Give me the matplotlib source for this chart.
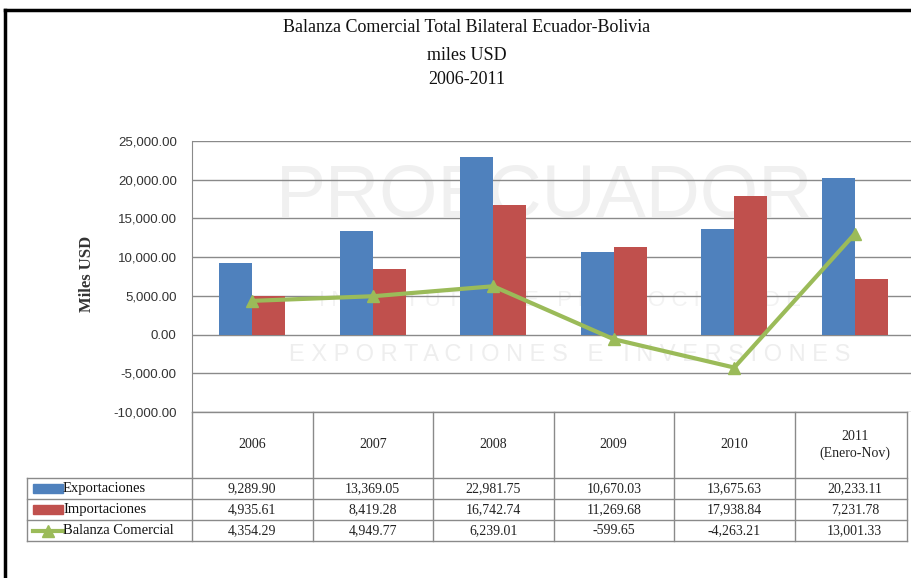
import numpy as np
import matplotlib as mpl
mpl.use('agg')
import matplotlib.pyplot as plt
from matplotlib.transforms import blended_transform_factory
from matplotlib.patches import Rectangle
from matplotlib.lines import Line2D

# Balanza comercial Ecuador-Bolivia, miles USD
years = ['2006', '2007', '2008', '2009', '2010', '2011\n(Enero-Nov)']
exportaciones = [9289.90, 13369.05, 22981.75, 10670.03, 13675.63, 20233.11]
importaciones = [4935.61, 8419.28, 16742.74, 11269.68, 17938.84, 7231.78]
balanza = [4354.29, 4949.77, 6239.01, -599.65, -4263.21, 13001.33]
series_names = ['Exportaciones', 'Importaciones', 'Balanza Comercial']
yticks = [-10000, -5000, 0, 5000, 10000, 15000, 20000, 25000]

BLUE = '#4F81BD'
RED = '#C0504D'
GREEN = '#9BBB59'
GRID = '#8a8a8a'
SERIF = ['Liberation Serif', 'DejaVu Serif']
SANS = ['Liberation Sans', 'DejaVu Sans']

W, H = 912, 578
fig = plt.figure(figsize=(W / 100, H / 100), dpi=100)
fig.patch.set_facecolor('white')

# background layer in pixel coordinates (title, table, frame)
bg = fig.add_axes([0, 0, 1, 1], zorder=0)
bg.set_xlim(0, W)
bg.set_ylim(H, 0)
bg.axis('off')

# plot area
left, right, top, bottom = 192, 915, 141, 412
ax = fig.add_axes([left / W, 1 - bottom / H, (right - left) / W, (bottom - top) / H], zorder=1)
ax.patch.set_alpha(0)

x = np.arange(len(years))
bw = 0.275
ax.bar(x - bw / 2, exportaciones, bw, color=BLUE, zorder=3)
ax.bar(x + bw / 2, importaciones, bw, color=RED, zorder=3)
ax.plot(x, balanza, color=GREEN, lw=3, marker='^', ms=8, zorder=4)

ax.set_xlim(-0.5, len(years) - 0.5)
ax.set_ylim(yticks[0], yticks[-1])
ax.set_yticks(yticks)
ax.set_yticklabels(['{:,.2f}'.format(v) for v in yticks], fontfamily=SANS, fontsize=9.5, color='#333333')
ax.tick_params(axis='y', length=0, pad=11)
ax.set_xticks([])
ax.grid(axis='y', color=GRID, lw=1, zorder=0)
for s in ['top', 'right', 'bottom']:
    ax.spines[s].set_visible(False)
ax.spines['left'].set_color(GRID)

# watermark
bg.text(545, 197, 'PROECUADOR', fontsize=54, color='#f0f0f0', ha='center', va='center',
        fontfamily=SANS, fontweight='light')
bg.text(560, 300, ' '.join('INSTITUTO DE PROMOCIÓN DE'), fontsize=16, color='#f2f2f2',
        ha='center', va='center', fontfamily=SANS)
bg.text(570, 355, ' '.join('EXPORTACIONES E INVERSIONES'), fontsize=17, color='#eeeeee',
        ha='center', va='center', fontfamily=SANS)

# title
bg.text(467, 28, 'Balanza Comercial Total Bilateral Ecuador-Bolivia', fontsize=13,
        fontfamily=SERIF, ha='center', va='center', color='#111111')
bg.text(467, 55, 'miles USD', fontsize=13, fontfamily=SERIF, ha='center', va='center', color='#111111')
bg.text(467, 80, '2006-2011', fontsize=13, fontfamily=SERIF, ha='center', va='center', color='#111111')

bg.text(87, 274, 'Miles USD', fontsize=12, fontweight='bold', fontfamily=SERIF,
        rotation=90, ha='center', va='center', color='#333333')

# outer frame
bg.plot([5, 5], [10, H], color='black', lw=2.5)
bg.plot([5, W], [10, 10], color='black', lw=2.5)

# data table
tr = blended_transform_factory(ax.transData, bg.transData)
edges = list(np.arange(len(years) + 1) - 0.5)
head_top, head_bot = 412, 478
row_h = 21
rows_y = [head_bot + i * row_h for i in range(4)]
table_right = 907

def hline(y, x0=27):
    bg.plot([x0, table_right], [y, y], color=GRID, lw=1, zorder=2)

hline(head_top, left)
hline(head_bot)
for y in rows_y[1:]:
    hline(y)
for e in edges[:-1]:
    bg.add_line(Line2D([e, e], [head_top, rows_y[-1]], color=GRID, lw=1, transform=tr))
bg.plot([table_right, table_right], [head_top, rows_y[-1]], color=GRID, lw=1)
bg.plot([27, 27], [head_bot, rows_y[-1]], color=GRID, lw=1)

for i, yr in enumerate(years):
    bg.text(i, (head_top + head_bot) / 2, yr, transform=tr, ha='center', va='center',
            fontsize=10, fontfamily=SERIF, color='#222222', linespacing=1.35)

for r, vals in enumerate([exportaciones, importaciones, balanza]):
    yc = rows_y[r] + row_h / 2
    for i, v in enumerate(vals):
        bg.text(i, yc, '{:,.2f}'.format(v), transform=tr, ha='center', va='center',
                fontsize=10, fontfamily=SERIF, color='#222222')
    bg.text(63, yc, series_names[r], ha='left', va='center', fontsize=10.5,
            fontfamily=SERIF, color='#111111')

# legend keys inside the table
bg.add_patch(Rectangle((33, rows_y[0] + 6), 30, 9, color=BLUE))
bg.add_patch(Rectangle((33, rows_y[1] + 6), 30, 9, color=RED))
yk = rows_y[2] + row_h / 2
bg.plot([33, 63], [yk, yk], color=GREEN, lw=3)
bg.plot([48], [yk], color=GREEN, marker='^', ms=8)

fig.savefig('out.png', dpi=100)
